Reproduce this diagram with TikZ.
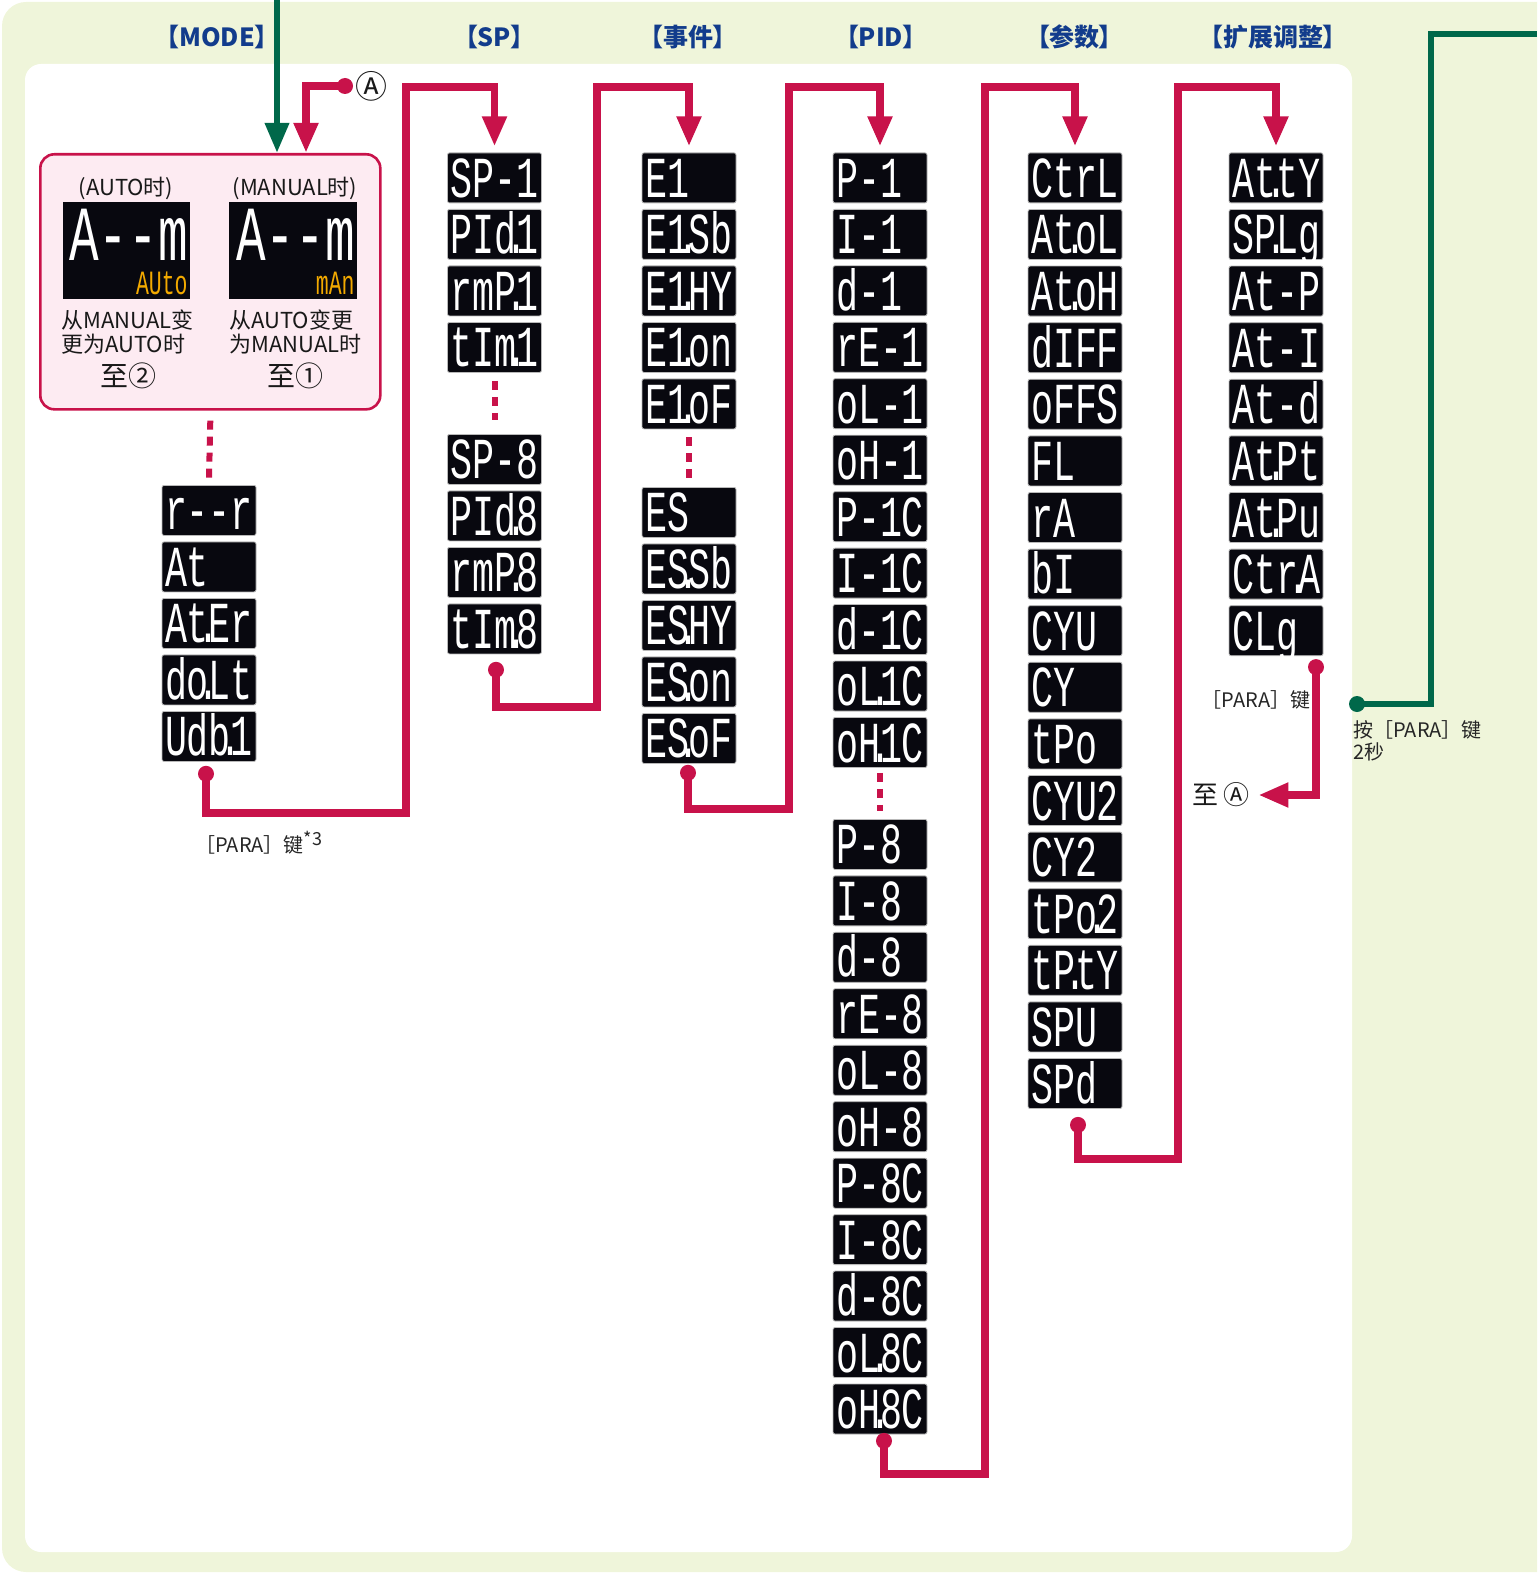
\documentclass[tikz,border=0pt]{standalone}
\usepackage{fontspec}
\setmainfont{Noto Sans CJK SC}
\newfontfamily\hdrfont[RawFeature=+palt]{Noto Sans CJK SC}
\newfontfamily\segfont[FakeStretch=0.632]{Liberation Mono}
\usetikzlibrary{arrows.meta,calc}
\definecolor{crim}{HTML}{C8124A}
\definecolor{grn}{HTML}{00684A}
\definecolor{bgg}{HTML}{EFF5DA}
\definecolor{hdrc}{HTML}{123C8C}
\definecolor{pinkf}{HTML}{FDEBF2}
\definecolor{lcd}{HTML}{08080F}
\definecolor{amber}{HTML}{F2A900}
\newcommand\sdot{\makebox[0pt]{.}}
\newcommand\seg[1]{\makebox[44pt][l]{#1}}
\newcommand\modedisp[2]{\vbox{\hbox to 61pt{\hfil\segfont\fontsize{39}{39}\selectfont\color{white}#1}\kern4.8pt\hbox to 61pt{\hfil\segfont\fontsize{17}{17}\selectfont\color{amber}#2}}}
\begin{document}
\begin{tikzpicture}[x=0.5pt,y=-0.5pt,
  disp/.style={fill=lcd, draw=gray!55, line width=0.4pt, rounded corners=1pt,
    minimum height=25pt, minimum width=47pt, inner xsep=1.5pt, inner ysep=0pt,
    text=white, font=\segfont\fontsize{29}{29}\selectfont,
    text height=19.5pt, text depth=0pt, anchor=north},
  conn/.style={draw=crim, line width=3.75pt, -{Triangle[length=15pt,width=11.5pt]}},
  gconn/.style={draw=grn, line width=3.25pt, -{Triangle[length=15pt,width=11.5pt]}},
  vdots/.style={draw=crim, line width=3pt, dash pattern=on 4.5pt off 3.5pt},
  hdrtxt/.style={text=hdrc, font=\hdrfont\bfseries\fontsize{12.5}{14}\selectfont},
  body/.style={text=black!90, font=\fontsize{11}{12}\selectfont},
  lbl/.style={text=black!85, font=\fontsize{10}{11}\selectfont},
  big/.style={text=black!90, font=\fontsize{14}{16}\selectfont}
]
\useasboundingbox (0,0) rectangle (1537,1573);
% backgrounds
\begin{scope}
  \clip (0,0) rectangle (1537,1573);
  \fill[bgg, rounded corners=12pt] (2,2) rectangle (1580,1572);
\end{scope}
\fill[white, rounded corners=8pt] (25,64) rectangle (1352,1552);

% headers
\node[hdrtxt] (hMode) at (217,37) {【MODE】};
\node[hdrtxt] (hSP) at (494.5,37) {【SP】};
\node[hdrtxt] (hEv) at (688,37) {【事件】};
\node[hdrtxt] (hPID) at (881,37) {【PID】};
\node[hdrtxt] (hPar) at (1074.5,37) {【参数】};
\node[hdrtxt] (hExt) at (1273,37) {【扩展调整】};

% mode box
\node[draw=crim, fill=pinkf, line width=1.3pt, rounded corners=7pt,
  minimum width=170pt, minimum height=127.5pt, anchor=north west, inner sep=0pt]
  (modebox) at (39,153) {};
\node[body] (lA) at (126,188) {(AUTO时)};
\node[body] (lM) at (295,188) {(MANUAL时)};
\node[fill=lcd, minimum width=63.75pt, minimum height=48.5pt, anchor=north west, inner sep=0pt] (dAuto) at (62.5,202) {};
\node[fill=lcd, minimum width=63.75pt, minimum height=48.5pt, anchor=north west, inner sep=0pt] (dMan) at (229,202) {};
\node[anchor=north east, inner sep=0pt] (sAuto) at (188,209) {\modedisp{A-{}-m}{AUto}};
\node[anchor=north east, inner sep=0pt] (sMan) at (355,209) {\modedisp{A-{}-m}{mAn}};
\node[body, align=left, anchor=north west, inner sep=0pt] (tA) at (61,309) {从MANUAL变\\更为AUTO时};
\node[body, align=left, anchor=north west, inner sep=0pt] (tM) at (229,309) {从AUTO变更\\为MANUAL时};
\node[big] (gA) at (128.5,376) {至②};
\node[big] (gM) at (295,376) {至①};

% incoming arrows to mode box
\coordinate (gtop) at (277,0);
\draw[gconn] (gtop) -- (gtop |- modebox.north);
\coordinate (dotA) at (345,86);
\coordinate (mA) at (306,86);
\node[big, font=\fontsize{16}{18}\selectfont, inner sep=0pt] (circA) at (371,86) {Ⓐ};
\draw[conn] (dotA) -| (mA |- modebox.north);
\fill[crim] (dotA) circle[radius=4pt];

% MODE column
\foreach \t [count=\i] in {r-{}-r,At,At\sdot Er,do\sdot Lt,Udb\sdot 1}
  \node[disp] (md\i) at (209,{485+56.5*(\i-1)}) {\seg{\t}};
\draw[vdots] ([yshift=-5pt]modebox.south) -- ([yshift=3.5pt]md1.north);

% SP column
\foreach \t [count=\i] in {SP-1,PId\sdot 1,rmP\sdot 1,tIm\sdot 1}
  \node[disp] (sp\i) at (494.5,{152.5+56.5*(\i-1)}) {\seg{\t}};
\foreach \t [count=\i from 5] in {SP-8,PId\sdot 8,rmP\sdot 8,tIm\sdot 8}
  \node[disp] (sp\i) at (494.5,{434+56.5*(\i-5)}) {\seg{\t}};
\draw[vdots] ([yshift=-4pt]sp4.south) -- ([yshift=7pt]sp5.north);

% event column
\foreach \t [count=\i] in {E1,E1\sdot Sb,E1\sdot HY,E1\sdot on,E1\sdot oF}
  \node[disp] (ev\i) at (689,{152.5+56.5*(\i-1)}) {\seg{\t}};
\foreach \t [count=\i from 6] in {ES,ES\sdot Sb,ES\sdot HY,ES\sdot on,ES\sdot oF}
  \node[disp] (ev\i) at (689,{487+56.5*(\i-6)}) {\seg{\t}};
\draw[vdots] ([yshift=-4pt]ev5.south) -- ([yshift=4.5pt]ev6.north);

% PID column
\foreach \t [count=\i] in {P-1,I-1,d-1,rE-1,oL-1,oH-1,P-1C,I-1C,d-1C,oL\sdot 1C,oH\sdot 1C}
  \node[disp] (pid\i) at (880,{152.5+56.46*(\i-1)}) {\seg{\t}};
\foreach \t [count=\i from 12] in {P-8,I-8,d-8,rE-8,oL-8,oH-8,P-8C,I-8C,d-8C,oL\sdot 8C,oH\sdot 8C}
  \node[disp] (pid\i) at (880,{819+56.46*(\i-12)}) {\seg{\t}};
\draw[vdots] ([yshift=-2.5pt]pid11.south) -- ([yshift=4pt]pid12.north);

% parameter column
\foreach \t [count=\i] in {CtrL,At\sdot oL,At\sdot oH,dIFF,oFFS,FL,rA,bI,CYU,CY,tPo,CYU2,CY2,tPo\sdot 2,tP\sdot tY,SPU,SPd}
  \node[disp] (par\i) at (1075,{152.5+56.6*(\i-1)}) {\seg{\t}};

% extended column
\foreach \t [count=\i] in {At\sdot tY,SP\sdot Lg,At-P,At-I,At-d,At\sdot Pt,At\sdot Pu,Ctr\sdot A,CLg}
  \node[disp] (ext\i) at (1276,{152.5+56.6*(\i-1)}) {\seg{\t}};

% connectors between columns
\coordinate (d1) at ($(md5.south)+(-3,12)$);
\coordinate (c1b) at (406,813);
\coordinate (c1) at (406,87);
\draw[conn, shorten >=3pt] (d1) |- (c1b) -- (c1) -| (sp1.north);
\fill[crim] (d1) circle[radius=4pt];
\node[lbl, anchor=west, inner sep=0pt] (k1) at (195,843) {［PARA］键\textsuperscript{\fontsize{9}{9}\selectfont *3}};

\coordinate (d2) at ($(sp8.south)+(1.5,15.5)$);
\coordinate (c2b) at (597,707);
\coordinate (c2) at (597,87);
\draw[conn, shorten >=3pt] (d2) |- (c2b) -- (c2) -| (ev1.north);
\fill[crim] (d2) circle[radius=4pt];

\coordinate (d3) at ($(ev10.south)+(-1,9)$);
\coordinate (c3b) at (789,809);
\coordinate (c3) at (789,87);
\draw[conn, shorten >=3pt] (d3) |- (c3b) -- (c3) -| (pid1.north);
\fill[crim] (d3) circle[radius=4pt];

\coordinate (d4) at ($(pid22.south)+(4,6.5)$);
\coordinate (c4b) at (985,1474);
\coordinate (c4) at (985,87);
\draw[conn, shorten >=3pt] (d4) |- (c4b) -- (c4) -| (par1.north);
\fill[crim] (d4) circle[radius=4pt];

\coordinate (d5) at ($(par17.south)+(3,16)$);
\coordinate (c5b) at (1178,1159);
\coordinate (c5) at (1178,87);
\draw[conn, shorten >=3pt] (d5) |- (c5b) -- (c5) -| (ext1.north);
\fill[crim] (d5) circle[radius=4pt];

% back to A
\node[big, font=\fontsize{13}{15}\selectfont, inner sep=1pt] (toA) at (1221,795) {至 Ⓐ};
\coordinate (d6) at ($(ext9.south)+(40,11)$);
\draw[conn, shorten >=3pt] (d6) |- (toA.east);
\fill[crim] (d6) circle[radius=4pt];
\node[lbl] (k2) at (1256,700) {［PARA］键};

% green exit
\coordinate (gd) at (1357,704);
\coordinate (gc) at (1431,34);
\coordinate (gend) at (1537,34);
\draw[grn, line width=3.25pt] (gd) -| (gc) -- (gend);
\fill[grn] (gd) circle[radius=4pt];
\node[lbl, align=left, anchor=north west, inner sep=0pt] (k3) at (1353,720) {按［PARA］键\\2秒};
\end{tikzpicture}
\end{document}
